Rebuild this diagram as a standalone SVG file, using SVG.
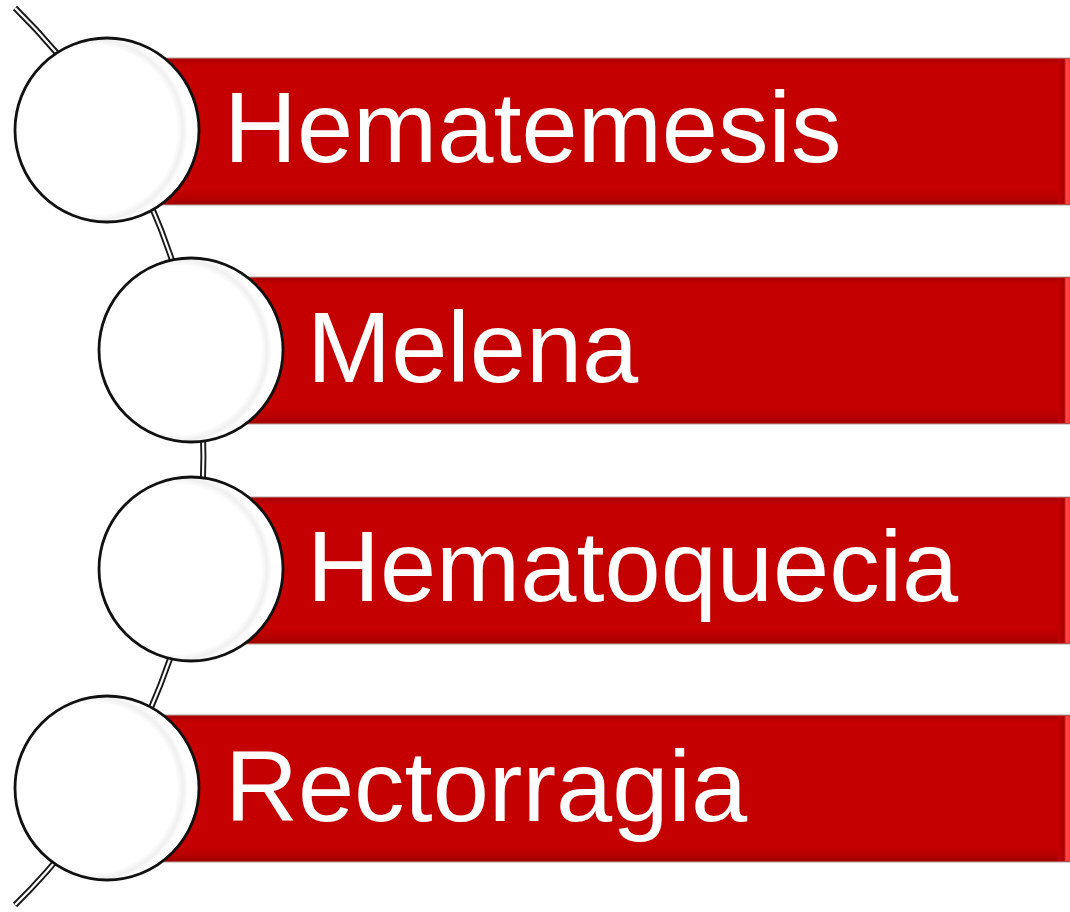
<svg xmlns="http://www.w3.org/2000/svg" width="1070" height="912" viewBox="0 0 1070 912">
<defs>
<linearGradient id="barV" x1="0" y1="0" x2="0" y2="1">
<stop offset="0" stop-color="#a80000"/>
<stop offset="0.05" stop-color="#c40000"/>
<stop offset="0.9" stop-color="#c40000"/>
<stop offset="0.96" stop-color="#b30000"/>
<stop offset="1" stop-color="#a00000"/>
</linearGradient>
<linearGradient id="endH" x1="0" y1="0" x2="1" y2="0">
<stop offset="0" stop-color="#c40000"/>
<stop offset="0.5" stop-color="#a80000"/>
<stop offset="0.7" stop-color="#ff4a4a"/>
<stop offset="1" stop-color="#ff3030"/>
</linearGradient>
<radialGradient id="ball" cx="0.42" cy="0.5" r="0.56">
<stop offset="0.82" stop-color="#ffffff"/>
<stop offset="0.88" stop-color="#f0f0f0"/>
<stop offset="0.93" stop-color="#ffffff"/>
</radialGradient>
<style>
.rail{fill:none;stroke:#1a1a1a;stroke-width:6}
.railin{fill:none;stroke:#ffffff;stroke-width:2.2}
.bar{fill:url(#barV);stroke:#b8a0a0;stroke-width:1}
.end{fill:url(#endH)}
.ball{fill:url(#ball);stroke:#111;stroke-width:2.8}
.lbl{font-family:"Liberation Sans",Arial,sans-serif;font-size:101px;fill:#ffffff}
</style>
</defs>
<g id="connectors">
<path class="rail" d="M15,8 A628,628 0 0 1 15,905"/>
<path class="railin" d="M15,8 A628,628 0 0 1 15,905"/>
</g>
<g id="node1">
<rect class="bar" x="107" y="58" width="970" height="147"/>
<rect class="end" x="1058" y="59" width="12" height="145"/>
<circle class="ball" cx="107" cy="130" r="92"/>
<text class="lbl" x="224" y="162">Hematemesis</text>
</g>
<g id="node2">
<rect class="bar" x="191" y="277" width="886" height="147"/>
<rect class="end" x="1058" y="278" width="12" height="145"/>
<circle class="ball" cx="191" cy="350" r="92"/>
<text class="lbl" x="307" y="382">Melena</text>
</g>
<g id="node3">
<rect class="bar" x="191" y="497" width="886" height="147"/>
<rect class="end" x="1058" y="498" width="12" height="145"/>
<circle class="ball" cx="191" cy="569" r="92"/>
<text class="lbl" x="307" y="601">Hematoquecia</text>
</g>
<g id="node4">
<rect class="bar" x="107" y="715" width="970" height="147"/>
<rect class="end" x="1058" y="716" width="12" height="145"/>
<circle class="ball" cx="107" cy="788" r="92"/>
<text class="lbl" x="225" y="821">Rectorragia</text>
</g>
</svg>
